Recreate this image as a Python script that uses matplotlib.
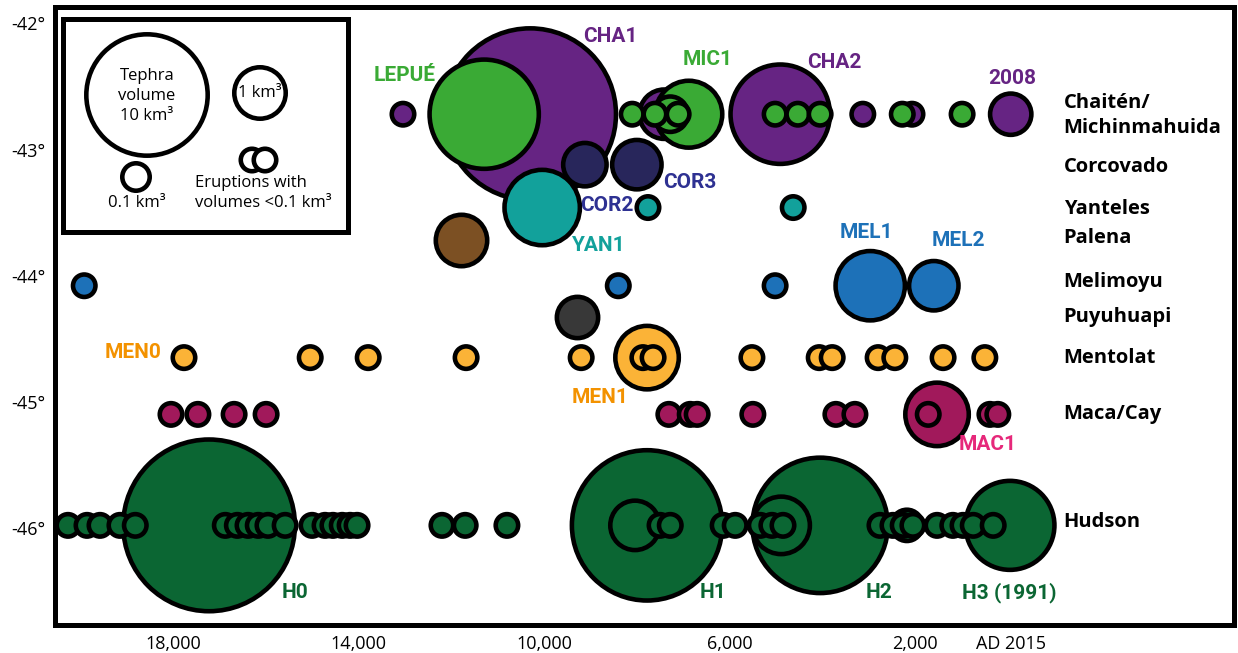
import numpy as np
import matplotlib.pyplot as plt

DPI = 100
EDGE_PT = 3.3

# Eruption ages in cal yr BP (AD 2015 = -65) and tephra volumes in km3.
# Eruptions smaller than 0.1 km3 are given 0.05.
chaiten_lat = -42.72
chaiten_age = [13040, 10300, 7410, 4910, 3130, 2070, -58]
chaiten_vol = [0.05, 26, 0.86, 5.8, 0.05, 0.05, 0.44]

michin_lat = -42.72
michin_age = [11290, 6880, 7280, 8100, 7610, 7110, 5020, 4530, 4050, 2280, 990]
michin_vol = [7.5, 2.0, 0.25, 0.05, 0.05, 0.05, 0.05, 0.05, 0.05, 0.05, 0.05]

corcovado_lat = -43.12
corcovado_age = [9120, 8000]
corcovado_vol = [0.53, 0.86]

yanteles_lat = -43.46
yanteles_age = [10040, 7760, 4630]
yanteles_vol = [2.75, 0.05, 0.05]

palena_lat = -43.72
palena_age = [11790]
palena_vol = [1.0]

melimoyu_lat = -44.08
melimoyu_age = [19910, 8400, 5020, 2970, 1600]
melimoyu_vol = [0.05, 0.05, 0.05, 2.2, 0.86]

puyuhuapi_lat = -44.33
puyuhuapi_age = [9290]
puyuhuapi_vol = [0.44]

mentolat_lat = -44.65
mentolat_age = [17760, 15040, 13790, 11680, 9200, 7780, 7870, 7650,
                5520, 4070, 3790, 2800, 2440, 1400, 500]
mentolat_vol = [0.05, 0.05, 0.05, 0.05, 0.05, 1.74, 0.05, 0.05,
                0.05, 0.05, 0.05, 0.05, 0.05, 0.05, 0.05]

maca_lat = -45.10
maca_age = [18040, 17460, 16680, 15990, 7310, 6850, 6700, 5500,
            3710, 3300, 1530, 1720, 390, 220]
maca_vol = [0.05, 0.05, 0.05, 0.05, 0.05, 0.05, 0.05, 0.05,
            0.05, 0.05, 1.74, 0.05, 0.05, 0.05]

hudson_lat = -45.98
hudson_age = [17220, 7780, 4050, -41, 8040, 4890, 2180,
              20260, 19850, 19570, 19140, 18810,
              16870, 16610, 16380, 16160, 15950, 15580,
              15000, 14720, 14550, 14350, 14180, 14030,
              12200, 11700, 10800, 7500, 7280, 6140, 5880,
              5340, 5090, 4850, 2760, 2480, 2260, 2050,
              1530, 1190, 970, 750, 320]
hudson_vol = [26, 18, 13.5, 4.3, 0.86, 1.34, 0.16,
              0.05, 0.05, 0.05, 0.05, 0.05,
              0.05, 0.05, 0.05, 0.05, 0.05, 0.05,
              0.05, 0.05, 0.05, 0.05, 0.05, 0.05,
              0.05, 0.05, 0.05, 0.05, 0.05, 0.05, 0.05,
              0.05, 0.05, 0.05, 0.05, 0.05, 0.05, 0.05,
              0.05, 0.05, 0.05, 0.05, 0.05]

volcano_names = ['Chaitén/\nMichinmahuida', 'Corcovado', 'Yanteles', 'Palena',
                 'Melimoyu', 'Puyuhuapi', 'Mentolat', 'Maca/Cay', 'Hudson']
volcano_name_lat = [-42.73, -43.14, -43.47, -43.70, -44.05, -44.33,
                    -44.65, -45.10, -45.95]

year_ticks = [18000, 14000, 10000, 6000, 2000, -65]
year_labels = ['18,000', '14,000', '10,000', '6,000', '2,000', 'AD 2015']
lat_ticks = [-42, -43, -44, -45, -46]

# named eruptions: label, age, lat, colour
eruption_labels = [
    ('CHA1', 8580, -42.10, '#662483'),
    ('LEPUÉ', 13000, -42.41, '#3aaa35'),
    ('MIC1', 6470, -42.29, '#3aaa35'),
    ('CHA2', 3750, -42.31, '#662483'),
    ('2008', -100, -42.44, '#662483'),
    ('COR3', 6850, -43.26, '#2e3192'),
    ('COR2', 8640, -43.44, '#2e3192'),
    ('YAN1', 8840, -43.76, '#12a19b'),
    ('MEL1', 3060, -43.66, '#1d71b8'),
    ('MEL2', 1080, -43.72, '#1d71b8'),
    ('MEN0', 18860, -44.61, '#f39200'),
    ('MEN1', 8790, -44.97, '#f39200'),
    ('MAC1', 430, -45.34, '#e6287a'),
    ('H0', 15370, -46.51, '#0b6633'),
    ('H1', 6360, -46.51, '#0b6633'),
    ('H2', 2780, -46.51, '#0b6633'),
    ('H3 (1991)', -20, -46.51, '#0b6633'),
]

rows = [
    (chaiten_lat, chaiten_age, chaiten_vol, '#662483'),
    (michin_lat, michin_age, michin_vol, '#3aaa35'),
    (corcovado_lat, corcovado_age, corcovado_vol, '#28265b'),
    (yanteles_lat, yanteles_age, yanteles_vol, '#12a19b'),
    (palena_lat, palena_age, palena_vol, '#7c5023'),
    (melimoyu_lat, melimoyu_age, melimoyu_vol, '#1d71b8'),
    (puyuhuapi_lat, puyuhuapi_age, puyuhuapi_vol, '#383838'),
    (mentolat_lat, mentolat_age, mentolat_vol, '#fbb337'),
    (maca_lat, maca_age, maca_vol, '#a1195b'),
    (hudson_lat, hudson_age, hudson_vol, '#0b6633'),
]

SANS = ['Open Sans', 'DejaVu Sans']
NARROW = ['Liberation Sans Narrow', 'DejaVu Sans Condensed', 'Roboto',
          'DejaVu Sans']


def marker_size(vol):
    """Scatter size (pt^2) for a tephra volume; same scale as the key."""
    v = np.asarray(vol, dtype=float)
    r = np.where(v < 1, 28 * v ** 0.243, 28 * v ** 0.352)  # outer radius, px
    d = (2 * r - EDGE_PT * DPI / 72) * 72 / DPI
    return d ** 2


fig = plt.figure(figsize=(12.38, 6.53), dpi=DPI)
ax = fig.add_axes([55 / 1238, 28 / 653, 1179 / 1238, 618 / 653])

for lat, age, vol, color in rows:
    age = np.asarray(age)
    vol = np.asarray(vol)
    order = np.argsort(-vol, kind='stable')
    ax.scatter(age[order], np.full(len(age), lat), s=marker_size(vol[order]),
               c=color, edgecolors='k', linewidths=EDGE_PT, zorder=3)

for name, lat in zip(volcano_names, volcano_name_lat):
    ax.text(-1200, lat, name, ha='left', va='center', fontsize=14.5,
            fontweight='bold', family=SANS, linespacing=1.3)

for text, age, lat, color in eruption_labels:
    ax.text(age, lat, text, ha='center', va='center', fontsize=15,
            fontweight='bold', family=NARROW, stretch='condensed',
            color=color, zorder=4)

ax.set_xlim(20540, -4870)
ax.set_ylim(-46.77, -41.87)
ax.set_xticks(year_ticks, labels=year_labels)
ax.set_yticks(lat_ticks, labels=[f'{t}°' for t in lat_ticks])
ax.tick_params(length=0, labelsize=13, pad=7)
for lab in ax.get_xticklabels() + ax.get_yticklabels():
    lab.set_family(SANS)
for sp in ax.spines.values():
    sp.set_linewidth(3.6)

# key for bubble sizes
lax = fig.add_axes([63 / 1238, (653 - 232) / 653, 285 / 1238, 213 / 653])
lax.set_xlim(0, 285)
lax.set_ylim(213, 0)
lax.set_xticks([])
lax.set_yticks([])
for sp in lax.spines.values():
    sp.set_linewidth(3.6)

key_x = [84, 197, 73, 189, 202]
key_y = [76, 74, 158, 141, 141]
key_vol = [10, 1, 0.1, 0.05, 0.05]
lax.scatter(key_x, key_y, s=marker_size(key_vol), c='white',
            edgecolors='k', linewidths=EDGE_PT, clip_on=False)
key_font = dict(family=SANS, fontsize=12)
lax.text(84, 77, 'Tephra\nvolume\n10 km³', ha='center', va='center',
         linespacing=1.3, **key_font)
lax.text(197, 74, '1 km³', ha='center', va='center', **key_font)
lax.text(74, 184, '0.1 km³', ha='center', va='center', **key_font)
lax.text(132, 164, 'Eruptions with', ha='left', va='center', **key_font)
lax.text(132, 184, 'volumes <0.1 km³', ha='left', va='center', **key_font)

fig.savefig('out.png', dpi=DPI)
